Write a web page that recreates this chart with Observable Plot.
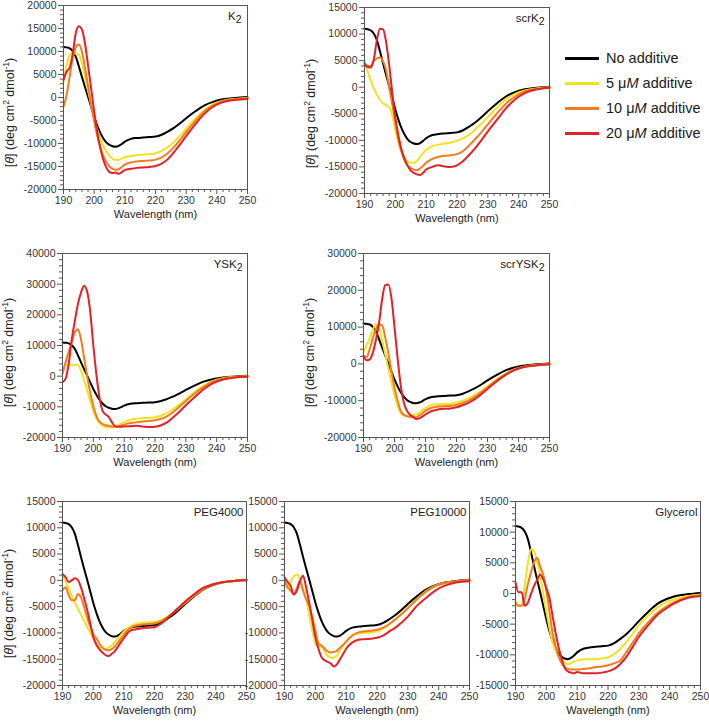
<!DOCTYPE html>
<html><head><meta charset="utf-8">
<script src="https://cdn.jsdelivr.net/npm/d3@7"></script>
<script src="https://cdn.jsdelivr.net/npm/@observablehq/plot@0.6"></script>
<style>
body{margin:0;background:#fff;}
#root{position:relative;width:709px;height:724px;overflow:hidden;background:#fff;font-family:"Liberation Sans",Arial,sans-serif;}
.panel{position:absolute;}
.panel svg{overflow:visible;}
.lg{position:absolute;left:565px;height:25px;display:flex;align-items:center;font-size:14.5px;color:#1a1a1a;white-space:nowrap;}
.lg .sw{display:inline-block;width:34px;height:3px;margin-right:7px;}
</style></head><body><div id="root"></div>
<script>
// ---- data ----
const wavelengths = [190,191,192,193,194,195,196,197,198,199,200,201,202,203,204,205,206,207,208,209,210,212,214,216,218,220,222,224,226,228,230,233,236,239,242,246,250];
const seriesLabels = ["No additive", "5 μM additive", "10 μM additive", "20 μM additive"];
const noAdditive = [11000,10900,10700,10100,8900,6800,4500,2300,200,-2000,-4200,-6100,-7700,-8900,-9800,-10300,-10600,-10700,-10500,-10100,-9600,-9000,-8800,-8700,-8600,-8500,-8100,-7400,-6600,-5600,-4500,-3000,-1700,-900,-400,-100,100];

const K2_5 = [3500,7000,9200,9800,9500,9300,7500,4500,1500,-1500,-4500,-7000,-9000,-10600,-11800,-12700,-13300,-13600,-13600,-13300,-13000,-12700,-12500,-12400,-12300,-12100,-11600,-10800,-9700,-8300,-6800,-4600,-2700,-1400,-700,-300,-100];
const K2_10 = [-2000,500,4500,8500,10900,11500,10000,6500,2500,-1500,-5200,-8300,-10800,-12700,-14100,-15000,-15500,-15700,-15600,-15100,-14600,-14100,-13900,-13800,-13700,-13500,-13000,-12100,-10800,-9200,-7500,-5100,-3000,-1600,-800,-400,-200];
const K2_20 = [3800,5600,6500,9500,14000,15500,14800,11800,7000,2000,-3000,-7500,-11000,-13600,-15300,-16200,-16400,-16300,-16600,-16200,-15800,-15500,-15300,-15200,-15100,-14900,-14400,-13400,-11900,-10200,-8400,-5800,-3500,-1900,-1000,-500,-300];

const scrK2_5 = [4400,3000,1300,-200,-1400,-2400,-3000,-3400,-3800,-5300,-8200,-10500,-12100,-13300,-14000,-14200,-14200,-13900,-13100,-12400,-11800,-11100,-10800,-10600,-10400,-10100,-9600,-8900,-7900,-6800,-5600,-3800,-2200,-1200,-600,-200,0];
const scrK2_10 = [4700,4000,4000,4900,5400,5600,4900,3200,0,-3200,-6500,-9800,-12200,-13800,-14700,-15200,-15500,-15600,-15300,-14800,-14200,-13500,-13100,-12900,-12800,-12600,-12000,-10900,-9700,-8400,-7000,-4900,-3000,-1700,-800,-300,-100];
const scrK2_20 = [4400,3800,3700,5200,8800,11000,10900,8500,4200,-1000,-5700,-9100,-11700,-13500,-14800,-15700,-16100,-16400,-16500,-16100,-15500,-15000,-14700,-14900,-15000,-14700,-13900,-12700,-11400,-9900,-8300,-6100,-3900,-2200,-1100,-400,-100];

const YSK2_5 = [2000,3600,3700,3700,3700,3600,1800,-1300,-4700,-8200,-11500,-13700,-15300,-16200,-16600,-16700,-16700,-16500,-16000,-15500,-15000,-14300,-13900,-13700,-13600,-13400,-12900,-12000,-10700,-9200,-7500,-5100,-3000,-1500,-700,-200,0];
const YSK2_10 = [700,4500,8000,11000,14300,15300,12000,6000,0,-5400,-9800,-13000,-14800,-15600,-16000,-16200,-16400,-16500,-16400,-16100,-15800,-15300,-15000,-14800,-14600,-14400,-13900,-13000,-11600,-9900,-8100,-5600,-3300,-1700,-800,-300,0];
const YSK2_20 = [-2000,-800,4000,12000,18000,23500,27300,29500,27500,21000,10000,500,-7000,-11300,-12500,-13300,-15000,-16300,-16500,-16500,-16400,-16300,-16200,-16400,-16600,-16500,-16000,-15000,-13300,-11500,-9500,-6700,-4100,-2200,-1100,-400,-200];

const scrYSK2_5 = [3300,5000,7000,9200,10800,9800,6500,2700,-1200,-5000,-8500,-11500,-13300,-14000,-14200,-14100,-13900,-13700,-13200,-12600,-12000,-11200,-11000,-10900,-10800,-10500,-10000,-9300,-8400,-7300,-6100,-4200,-2600,-1400,-700,-300,0];
const scrYSK2_10 = [2200,1800,4000,7000,9500,10700,10500,7200,3000,-2000,-6500,-10000,-12800,-13800,-14200,-14400,-14500,-14500,-14000,-13400,-12700,-11900,-11600,-11500,-11400,-11100,-10600,-9900,-8900,-7700,-6400,-4400,-2700,-1500,-800,-300,-100];
const scrYSK2_20 = [2200,1000,1200,3000,6500,11000,17500,21400,21600,18000,10000,1500,-5800,-10500,-12700,-13800,-14400,-15000,-14800,-14300,-13700,-12800,-12400,-12200,-12100,-11800,-11200,-10500,-9500,-8200,-6800,-4700,-2900,-1600,-800,-400,-100];

const PEG4000_5 = [800,-300,-1600,-2900,-4200,-5400,-6500,-7600,-8800,-9900,-11000,-12000,-12600,-12900,-13000,-12800,-12400,-11800,-11100,-10400,-9700,-8800,-8300,-8100,-8000,-7900,-7600,-7000,-6200,-5200,-4200,-2800,-1600,-800,-400,-100,0];
const PEG4000_10 = [-1900,-1300,-2800,-3800,-3800,-2600,-3200,-5000,-7000,-8700,-10200,-11000,-12000,-12800,-13200,-13300,-13100,-12600,-11900,-11100,-10300,-9100,-8600,-8400,-8300,-8200,-7800,-7100,-6200,-5300,-4300,-2900,-1600,-800,-400,-100,0];
const PEG4000_20 = [1200,600,-300,0,400,100,-1300,-3300,-5500,-8000,-10700,-12200,-13100,-13700,-14200,-14400,-14000,-13500,-12700,-11800,-11000,-9600,-9300,-9100,-9000,-8900,-8300,-7300,-6200,-5100,-4000,-2600,-1400,-750,-350,-100,0];

const PEG10000_5 = [-700,-1500,-200,700,1100,300,-1600,-3500,-6500,-9500,-12000,-12600,-12600,-13500,-14300,-14700,-14700,-14300,-13400,-12300,-11500,-10500,-10100,-10000,-9900,-9700,-9200,-8400,-7400,-6300,-5200,-3500,-2000,-1000,-500,-200,0];
const PEG10000_10 = [0,-1300,-2000,-2600,-1500,-100,-1900,-3600,-4800,-7000,-9500,-12000,-12400,-13000,-13500,-13700,-13600,-13400,-12800,-12300,-11700,-10500,-9900,-9700,-9600,-9400,-9000,-8300,-7400,-6400,-5300,-3600,-2100,-1100,-500,-200,0];
const PEG10000_20 = [600,-300,-1100,-2700,-2000,-200,900,-1300,-4200,-7500,-10800,-13000,-14600,-15200,-15500,-15800,-16400,-16000,-15000,-14000,-13000,-11800,-11300,-11200,-11100,-10900,-10500,-9700,-9000,-8000,-6900,-4800,-3300,-1900,-1000,-350,-150];

const Glycerol_5 = [-1700,-2000,-1800,1300,4900,7200,6900,5200,2900,0,-2900,-5600,-7900,-9300,-10300,-10900,-11300,-11500,-11400,-11100,-10900,-10700,-10700,-10700,-10600,-10400,-9900,-9000,-7900,-6600,-5200,-3600,-2300,-1400,-900,-400,-150];
const Glycerol_10 = [-1400,-2000,-2000,-900,1500,3400,5100,5800,4400,3000,500,-2900,-6400,-8500,-10300,-11400,-12000,-12300,-12400,-12400,-12400,-12300,-12200,-12000,-11900,-11700,-11400,-10900,-9500,-8000,-6500,-4700,-3200,-2100,-1300,-600,-300];
const Glycerol_20 = [1800,200,200,-2000,-1500,-100,1200,2200,3100,2300,900,-700,-3600,-6400,-8800,-10700,-12200,-12700,-12900,-13000,-12800,-13000,-13000,-13000,-12900,-12700,-12300,-11500,-10300,-8700,-7100,-5200,-3500,-2400,-1500,-700,-400];

const xTicks = [190,200,210,220,230,240,250];

// ---- styling / layout ----
const colors = ["#000000", "#f2e21e", "#f27c21", "#e2212b"];
const panels = [
  {title:"K", sub:"2", series:[noAdditive,K2_5,K2_10,K2_20], y:[-20000,20000], major:5000, minor:1000, f:[63,5,247,189], ylab:112, tdx:6},
  {title:"scrK", sub:"2", series:[noAdditive,scrK2_5,scrK2_10,scrK2_20], y:[-20000,15000], major:5000, minor:1000, f:[364,7,549,193], ylab:113, tdx:5},
  {title:"YSK", sub:"2", series:[noAdditive,YSK2_5,YSK2_10,YSK2_20], y:[-20000,40000], major:10000, minor:2000, f:[62,253,247,437], ylab:352, tdx:5},
  {title:"scrYSK", sub:"2", series:[noAdditive,scrYSK2_5,scrYSK2_10,scrYSK2_20], y:[-20000,30000], major:10000, minor:2000, f:[363,253,549,437], ylab:352, tdx:5},
  {title:"PEG4000", sub:"", series:[noAdditive,PEG4000_5,PEG4000_10,PEG4000_20], y:[-20000,15000], major:5000, minor:1000, f:[62,501,246,685], ylab:603, tdx:3},
  {title:"PEG10000", sub:"", series:[noAdditive,PEG10000_5,PEG10000_10,PEG10000_20], y:[-20000,15000], major:5000, minor:1000, f:[284,501,469,685], ylab:null, tdx:3},
  {title:"Glycerol", sub:"", series:[noAdditive,Glycerol_5,Glycerol_10,Glycerol_20], y:[-15000,15000], major:5000, minor:1000, f:[515,501,700,685], ylab:null, tdx:3}
];

const root = document.getElementById("root");
const mL = 62, mR = 8, mT = 6, mB = 36;
const YLAB = "[θ] (deg cm2 dmol-1)";

panels.forEach(p => {
  const [x0, y0, x1, y1] = p.f;
  const rows = [];
  p.series.forEach((arr, si) => arr.forEach((v, i) => rows.push({w: wavelengths[i], v, s: si})));
  const majors = d3.range(p.y[0], p.y[1] + 1, p.major);
  const minors = d3.range(p.y[0], p.y[1] + 1, p.minor).filter(d => (d - p.y[0]) % p.major !== 0);
  const xMinor = d3.range(190, 251, 2).filter(d => d % 10 !== 0);
  const marks = [
    Plot.axisY({ticks: minors, tickSize: 3, tickFormat: () => "", stroke: "#555", label: null}),
    Plot.axisY({ticks: majors, tickSize: 5, tickPadding: 2, tickFormat: d => String(d), stroke: "#555", fontSize: 10.5, label: null}),
    Plot.axisX({ticks: xMinor, tickSize: 3, tickFormat: () => "", stroke: "#555", label: null}),
    Plot.axisX({ticks: xTicks, tickSize: 5, tickPadding: 2, tickFormat: d => String(d), stroke: "#555", fontSize: 10.5, label: null}),
    ...[0,1,2,3].map(si => Plot.line(rows.filter(r => r.s === si), {x: "w", y: "v", stroke: colors[si], strokeWidth: 2, curve: "monotone-x"})),
    Plot.frame({stroke: "#555", strokeWidth: 1}),
    Plot.text([p.title + p.sub], {frameAnchor: "top-right", dx: -p.tdx, dy: 11, textAnchor: "end", lineAnchor: "middle", fontSize: 11.5, fill: "#222"}),
    Plot.text(["Wavelength (nm)"], {frameAnchor: "bottom", dy: 25, textAnchor: "middle", lineAnchor: "middle", fontSize: 11, fill: "#222"})
  ];
  if (p.ylab != null) {
    marks.push(Plot.text([YLAB], {frameAnchor: "left", dx: -54, dy: p.ylab - (y0 + y1) / 2, rotate: -90, textAnchor: "middle", lineAnchor: "middle", fontSize: 12.5, fill: "#222"}));
  }
  const chart = Plot.plot({
    width: (x1 - x0) + mL + mR,
    height: (y1 - y0) + mT + mB,
    marginLeft: mL, marginRight: mR, marginTop: mT, marginBottom: mB,
    style: {fontFamily: "'Liberation Sans', Arial, sans-serif", fontSize: "10px", color: "#333", background: "transparent", overflow: "visible"},
    x: {domain: [190, 250]},
    y: {domain: p.y},
    marks
  });
  const div = document.createElement("div");
  div.className = "panel";
  div.style.left = (x0 - mL) + "px";
  div.style.top = (y0 - mT) + "px";
  div.appendChild(chart);
  root.appendChild(div);

  // rich text: subscripts, italic theta, superscripts
  d3.select(chart).selectAll("text").each(function() {
    const t = this.textContent;
    const sel = d3.select(this);
    if (p.sub && t === p.title + p.sub) {
      sel.text(null);
      sel.append("tspan").text(p.title);
      sel.append("tspan").attr("baseline-shift", "-30%").attr("font-size", "10.5").text(p.sub);
    } else if (t === YLAB) {
      sel.text(null);
      sel.append("tspan").text("[");
      sel.append("tspan").attr("font-style", "italic").text("θ");
      sel.append("tspan").text("] (deg cm");
      sel.append("tspan").attr("baseline-shift", "super").attr("font-size", "8.5").text("2");
      sel.append("tspan").text(" dmol");
      sel.append("tspan").attr("baseline-shift", "super").attr("font-size", "8.5").text("-1");
      sel.append("tspan").text(")");
    }
  });
});

// legend
const legendRows = [58, 83, 108, 133];
seriesLabels.forEach((lab, i) => {
  const row = document.createElement("div");
  row.className = "lg";
  row.style.top = (legendRows[i] - 12.5) + "px";
  const sw = document.createElement("span");
  sw.className = "sw";
  sw.style.background = colors[i];
  row.appendChild(sw);
  const txt = document.createElement("span");
  const m = lab.match(/^(\d+) μM (.*)$/);
  if (m) {
    txt.append(m[1] + " μ");
    const it = document.createElement("i"); it.textContent = "M"; txt.append(it);
    txt.append(" " + m[2]);
  } else txt.textContent = lab;
  row.appendChild(txt);
  root.appendChild(row);
});
</script></body></html>
